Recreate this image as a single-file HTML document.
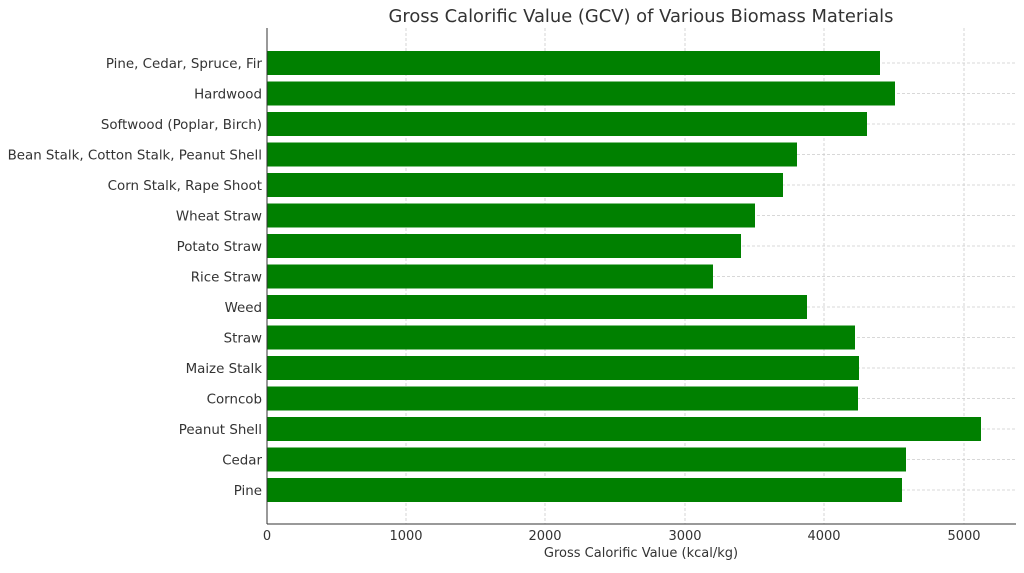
<!DOCTYPE html>
<html><head><style>body{margin:0;background:#fff}</style></head><body>
<svg width="1024" height="568" xmlns="http://www.w3.org/2000/svg" font-family="DejaVu Sans, sans-serif">
<rect width="1024" height="568" fill="#fff"/>
<text x="641" y="22" font-size="17.9" fill="#333" text-anchor="middle">Gross Calorific Value (GCV) of Various Biomass Materials</text>
<g stroke="#ccc" stroke-dasharray="3,2" stroke-width="0.8">
<line x1="406" y1="28" x2="406" y2="524"/><line x1="545" y1="28" x2="545" y2="524"/><line x1="685" y1="28" x2="685" y2="524"/><line x1="824" y1="28" x2="824" y2="524"/><line x1="964" y1="28" x2="964" y2="524"/>
<line x1="267" y1="63" x2="1016" y2="63"/><line x1="267" y1="93.5" x2="1016" y2="93.5"/><line x1="267" y1="124" x2="1016" y2="124"/><line x1="267" y1="154.5" x2="1016" y2="154.5"/><line x1="267" y1="185" x2="1016" y2="185"/><line x1="267" y1="215.5" x2="1016" y2="215.5"/><line x1="267" y1="246" x2="1016" y2="246"/><line x1="267" y1="276.5" x2="1016" y2="276.5"/><line x1="267" y1="307" x2="1016" y2="307"/><line x1="267" y1="337.5" x2="1016" y2="337.5"/><line x1="267" y1="368" x2="1016" y2="368"/><line x1="267" y1="398.5" x2="1016" y2="398.5"/><line x1="267" y1="429" x2="1016" y2="429"/><line x1="267" y1="459.5" x2="1016" y2="459.5"/><line x1="267" y1="490" x2="1016" y2="490"/>
</g>
<g fill="#008000">
<rect x="267" y="51" width="613" height="24"/>
<rect x="267" y="81.5" width="628" height="24"/>
<rect x="267" y="112" width="600" height="24"/>
<rect x="267" y="142.5" width="530" height="24"/>
<rect x="267" y="173" width="516" height="24"/>
<rect x="267" y="203.5" width="488" height="24"/>
<rect x="267" y="234" width="474" height="24"/>
<rect x="267" y="264.5" width="446" height="24"/>
<rect x="267" y="295" width="540" height="24"/>
<rect x="267" y="325.5" width="588" height="24"/>
<rect x="267" y="356" width="592" height="24"/>
<rect x="267" y="386.5" width="591" height="24"/>
<rect x="267" y="417" width="714" height="24"/>
<rect x="267" y="447.5" width="639" height="24"/>
<rect x="267" y="478" width="635" height="24"/>
</g>
<g stroke="#333" stroke-width="1"><line x1="267" y1="28" x2="267" y2="524"/><line x1="267" y1="524" x2="1016" y2="524"/></g>
<g font-size="13.4" fill="#333" text-anchor="end">
<text x="262" y="68">Pine, Cedar, Spruce, Fir</text>
<text x="262" y="98.5">Hardwood</text>
<text x="262" y="129">Softwood (Poplar, Birch)</text>
<text x="262" y="159.5">Bean Stalk, Cotton Stalk, Peanut Shell</text>
<text x="262" y="190">Corn Stalk, Rape Shoot</text>
<text x="262" y="220.5">Wheat Straw</text>
<text x="262" y="251">Potato Straw</text>
<text x="262" y="281.5">Rice Straw</text>
<text x="262" y="312">Weed</text>
<text x="262" y="342.5">Straw</text>
<text x="262" y="373">Maize Stalk</text>
<text x="262" y="403.5">Corncob</text>
<text x="262" y="434">Peanut Shell</text>
<text x="262" y="464.5">Cedar</text>
<text x="262" y="495">Pine</text>
</g>
<g font-size="13" fill="#333" text-anchor="middle">
<text x="267" y="540">0</text><text x="406" y="540">1000</text><text x="545" y="540">2000</text><text x="685" y="540">3000</text><text x="824" y="540">4000</text><text x="964" y="540">5000</text>
<text x="641" y="557">Gross Calorific Value (kcal/kg)</text>
</g>
</svg>
</body></html>
